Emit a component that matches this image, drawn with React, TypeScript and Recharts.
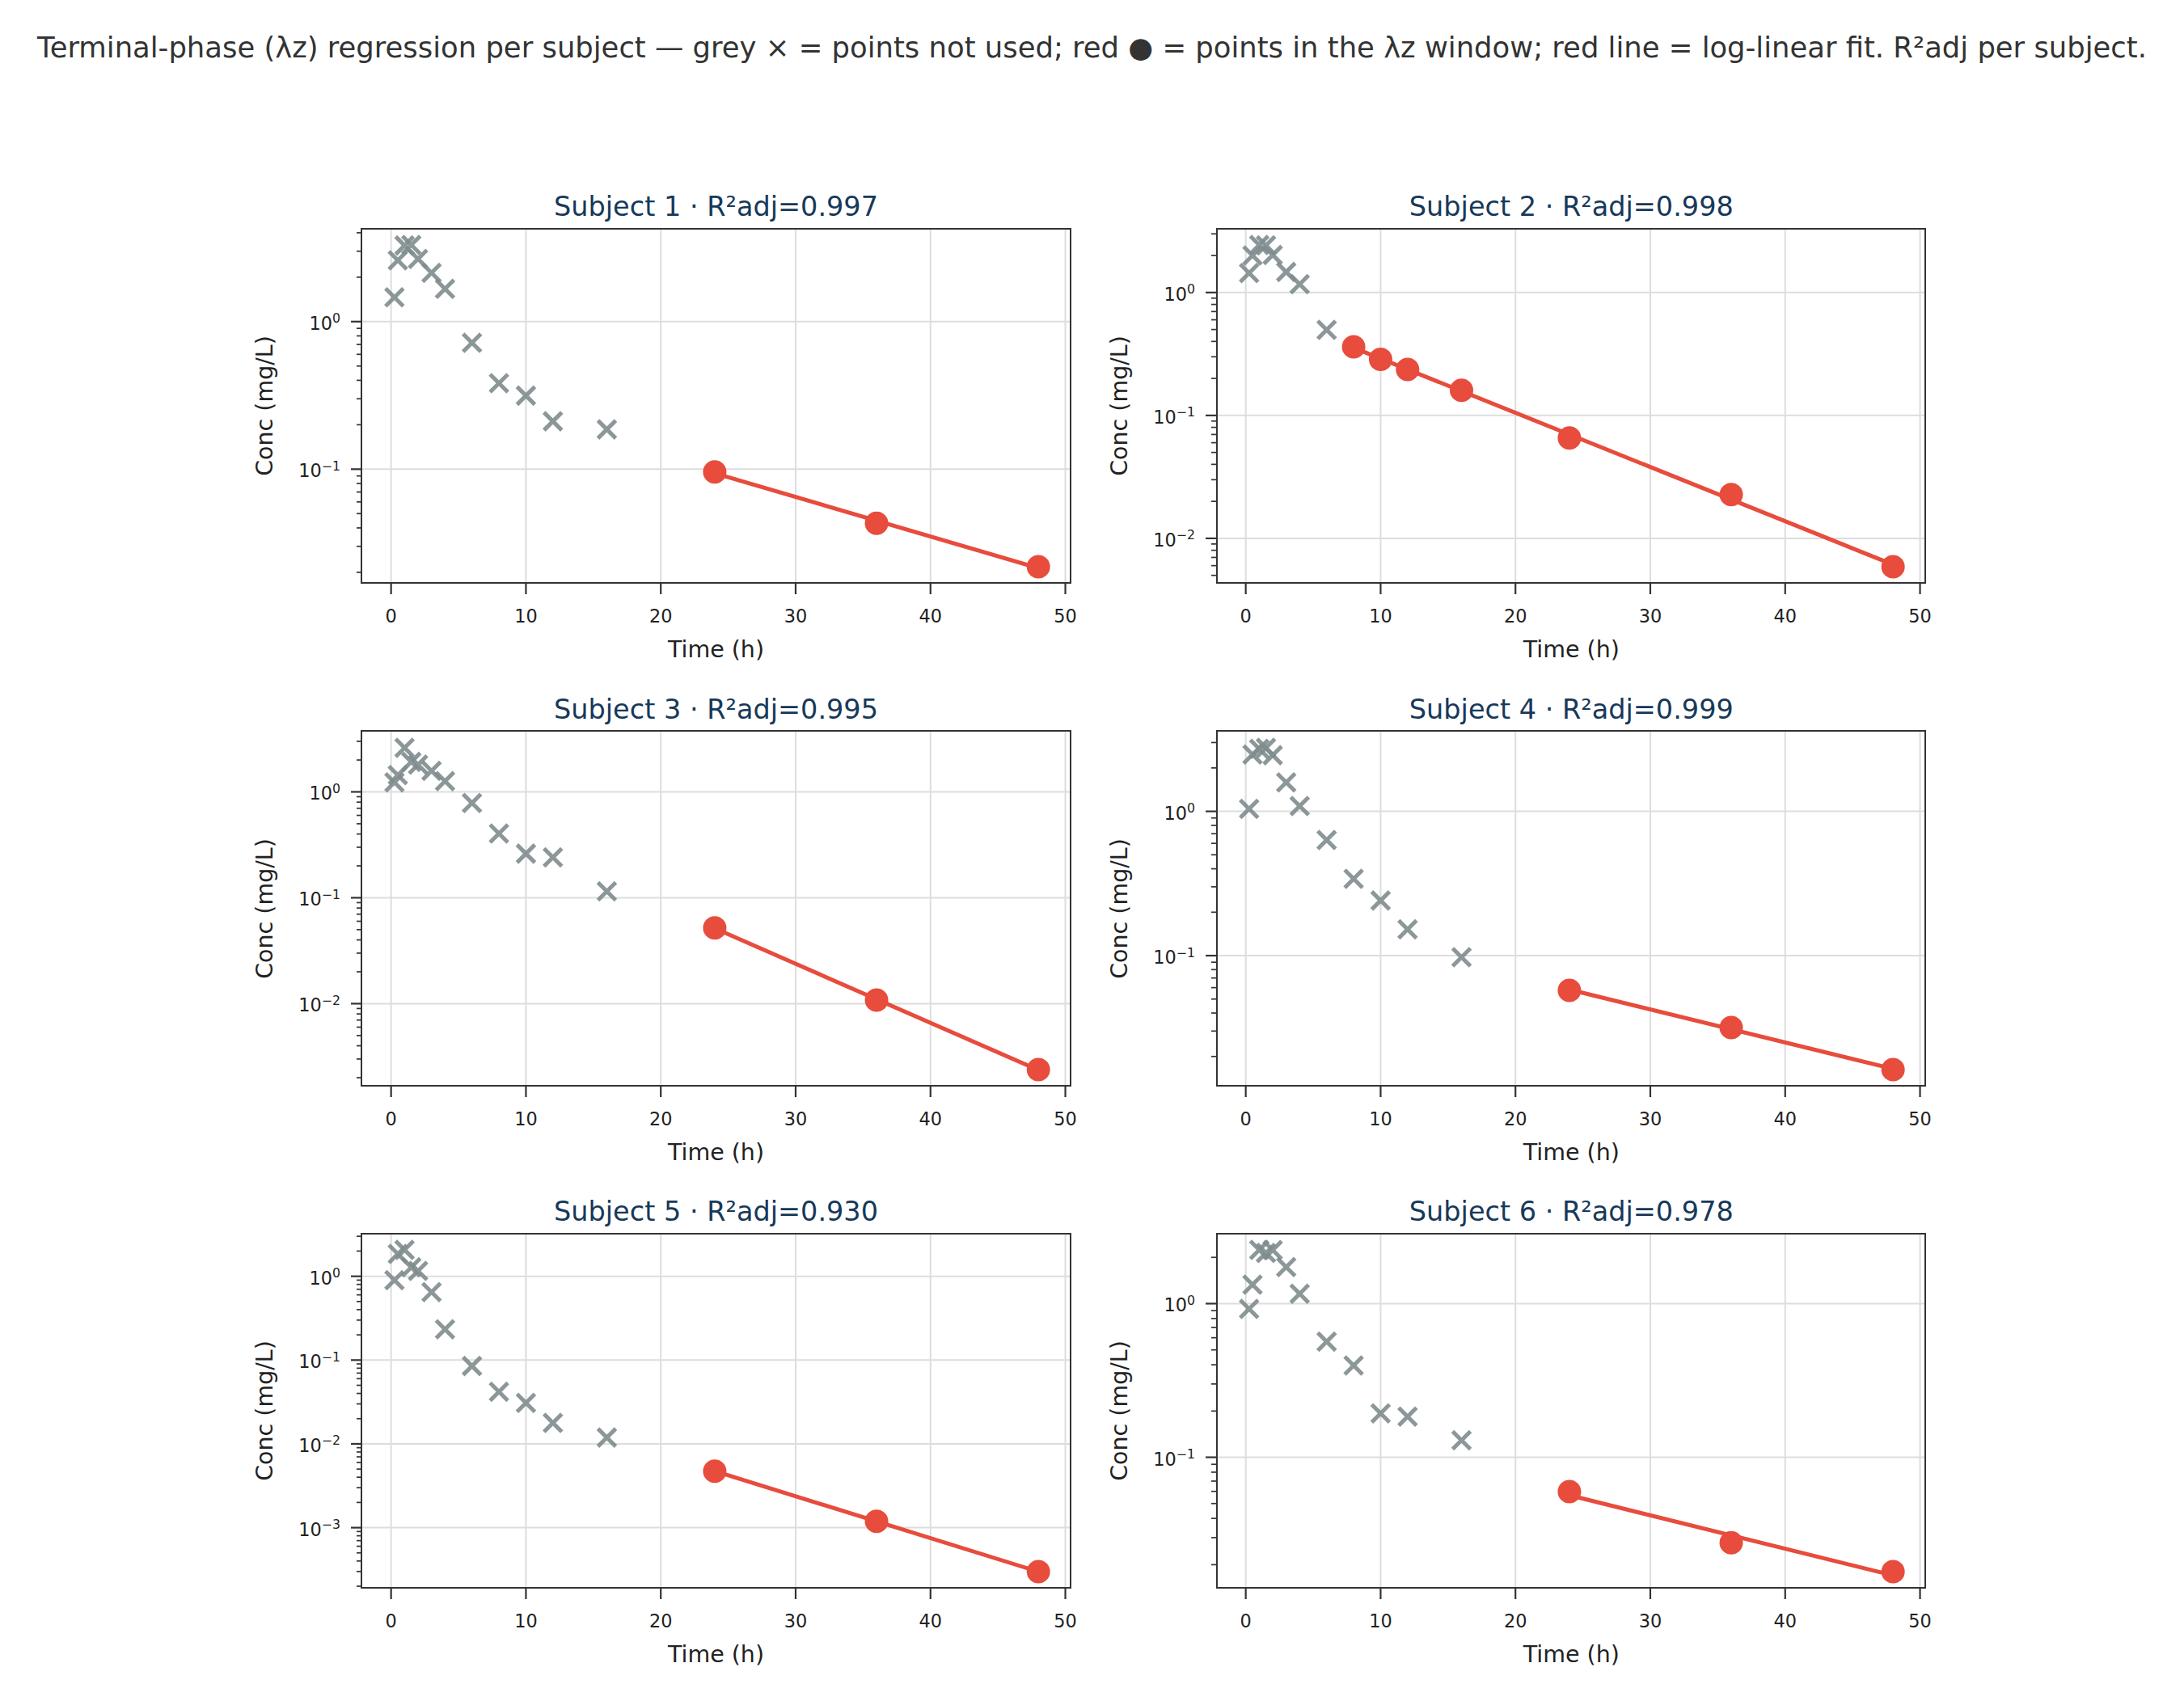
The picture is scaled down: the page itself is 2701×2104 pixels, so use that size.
import React from "react";
import { ComposedChart, Scatter, Line, XAxis, YAxis, CartesianGrid } from "recharts";

// sampling times (h), shared by every subject
const times = [0.25, 0.5, 1, 1.5, 2, 3, 4, 6, 8, 10, 12, 16, 24, 36, 48];

const subjectNames = ["Subject 1", "Subject 2", "Subject 3", "Subject 4", "Subject 5", "Subject 6"];
const r2adj = ["0.997", "0.998", "0.995", "0.999", "0.930", "0.978"];

// concentrations (mg/L) per subject, one value per sampling time
const conc1 = [1.46, 2.6, 3.28, 3.31, 2.66, 2.14, 1.67, 0.718, 0.382, 0.315, 0.211, 0.186, 0.0957, 0.043, 0.0218];
const conc2 = [1.44, 2.0, 2.44, 2.42, 2.02, 1.47, 1.17, 0.497, 0.361, 0.286, 0.237, 0.16, 0.0655, 0.0227, 0.00587];
const conc3 = [1.23, 1.44, 2.61, 1.92, 1.81, 1.58, 1.26, 0.784, 0.405, 0.261, 0.241, 0.115, 0.0519, 0.0108, 0.00238];
const conc4 = [1.04, 2.48, 2.71, 2.76, 2.45, 1.59, 1.09, 0.634, 0.341, 0.241, 0.152, 0.0975, 0.0574, 0.0317, 0.0162];
const conc5 = [0.9, 1.85, 2.07, 1.28, 1.16, 0.647, 0.233, 0.085, 0.0419, 0.0308, 0.0178, 0.0119, 0.00472, 0.00119, 0.000298];
const conc6 = [0.925, 1.33, 2.24, 2.14, 2.23, 1.73, 1.16, 0.565, 0.396, 0.193, 0.184, 0.129, 0.0598, 0.0278, 0.018];
const concBySubject = [conc1, conc2, conc3, conc4, conc5, conc6];

// first time point of the lambda-z window for each subject
const windowStart = [24, 8, 24, 24, 24, 24];

const xTicks = [0, 10, 20, 30, 40, 50];

const suptitle =
  "Terminal-phase (λz) regression per subject — grey × = points not used; red ● = points in the λz window; red line = log-linear fit. R²adj per subject.";

const GREY = "#7f8c8d";
const RED = "#e74c3c";
const TITLE_COLOR = "#17395a";
const INK = "#222222";
const SPINE = "#333333";
const GRID = "#dddddd";
const FONT = "'DejaVu Sans', sans-serif";

// panel geometry
const PLOT_W = 876;
const PLOT_H = 438;
const COL_X = [447.5, 1505.3];
const ROW_Y = [282.7, 904.5, 1525.7];
const M_LEFT = 150;
const M_RIGHT = 20;
const M_TOP = 20;
const M_BOTTOM = 80;
const Y_AXIS_W = 120;
const X_AXIS_H = 60;
const SPINE_W = 2.4;

const xPad = (times[times.length - 1] - times[0]) * 0.05;
const xDomain: [number, number] = [times[0] - xPad, times[times.length - 1] + xPad];

function logDomain(values: number[]): [number, number] {
  const lo = Math.log10(Math.min(...values));
  const hi = Math.log10(Math.max(...values));
  const pad = (hi - lo) * 0.05;
  return [Math.pow(10, lo - pad), Math.pow(10, hi + pad)];
}

function logTicks([lo, hi]: [number, number]) {
  const all: number[] = [];
  const majors: number[] = [];
  for (let d = Math.floor(Math.log10(lo)); d <= Math.ceil(Math.log10(hi)); d++) {
    for (let k = 1; k <= 9; k++) {
      const v = k * Math.pow(10, d);
      if (v >= lo && v <= hi) {
        all.push(v);
        if (k === 1) majors.push(v);
      }
    }
  }
  return { all, majors };
}

// least squares on ln(conc) vs time, evaluated at the ends of the window
function logLinearFit(pts: { t: number; c: number }[]) {
  const n = pts.length;
  const mt = pts.reduce((s, p) => s + p.t, 0) / n;
  const my = pts.reduce((s, p) => s + Math.log(p.c), 0) / n;
  let sxy = 0;
  let sxx = 0;
  pts.forEach((p) => {
    sxy += (p.t - mt) * (Math.log(p.c) - my);
    sxx += (p.t - mt) * (p.t - mt);
  });
  const slope = sxy / sxx;
  const ends = [pts[0].t, pts[n - 1].t];
  return ends.map((t) => ({ t, c: Math.exp(my + slope * (t - mt)) }));
}

const Cross = (props: any) => {
  const { cx, cy } = props;
  const h = 11;
  return (
    <g stroke={GREY} strokeWidth={5} opacity={0.9}>
      <line x1={cx - h} y1={cy - h} x2={cx + h} y2={cy + h} />
      <line x1={cx - h} y1={cy + h} x2={cx + h} y2={cy - h} />
    </g>
  );
};

const Dot = (props: any) => <circle cx={props.cx} cy={props.cy} r={14.5} fill={RED} />;

const TimeTick = (props: any) => {
  const { x, y, payload } = props;
  return (
    <g>
      <line x1={x} x2={x} y1={y} y2={y + 14} stroke={SPINE} strokeWidth={2.2} />
      <text x={x} y={y + 49} textAnchor="middle" fontSize={22.4} fill={INK} fontFamily={FONT}>
        {payload.value}
      </text>
    </g>
  );
};

const LogTick = (props: any) => {
  const { x, y, payload } = props;
  const lg = Math.log10(payload.value);
  const e = Math.round(lg);
  const major = Math.abs(lg - e) < 1e-6;
  return (
    <g>
      <line x1={x - (major ? 14 : 7)} x2={x} y1={y} y2={y} stroke={SPINE} strokeWidth={major ? 2.2 : 1.7} />
      {major && (
        <text x={x - 27} y={y + 10} textAnchor="end" fontSize={22.4} fill={INK} fontFamily={FONT}>
          10
          <tspan dy={-8.5} fontSize={15.7}>
            {e === 0 ? "0" : "\u2212" + Math.abs(e)}
          </tspan>
        </text>
      )}
    </g>
  );
};

function SubjectPanel({ idx }: { idx: number }) {
  const conc = concBySubject[idx];
  const points = times.map((t, i) => ({ t, c: conc[i] }));
  const unused = points.filter((p) => p.t < windowStart[idx]);
  const used = points.filter((p) => p.t >= windowStart[idx]);
  const fit = logLinearFit(used);
  const yDomain = logDomain(conc);
  const { all, majors } = logTicks(yDomain);

  const px = COL_X[idx % 2];
  const py = ROW_Y[Math.floor(idx / 2)];

  return (
    <>
      <div
        style={{
          position: "absolute",
          left: px,
          top: py - 45,
          width: PLOT_W,
          textAlign: "center",
          fontSize: 33.5,
          lineHeight: "36px",
          color: TITLE_COLOR,
          whiteSpace: "nowrap",
        }}
      >
        {subjectNames[idx]} · R²adj={r2adj[idx]}
      </div>
      <div style={{ position: "absolute", left: px - M_LEFT, top: py - M_TOP }}>
        <ComposedChart
          width={PLOT_W + M_LEFT + M_RIGHT}
          height={PLOT_H + M_TOP + M_BOTTOM}
          margin={{ top: M_TOP, right: M_RIGHT, bottom: M_BOTTOM - X_AXIS_H, left: M_LEFT - Y_AXIS_W }}
        >
          <CartesianGrid horizontalValues={majors} verticalValues={xTicks} stroke={GRID} strokeWidth={2} />
          <XAxis
            dataKey="t"
            type="number"
            domain={xDomain}
            allowDataOverflow
            ticks={xTicks}
            interval={0}
            height={X_AXIS_H}
            tickSize={0}
            tickMargin={0}
            tick={<TimeTick />}
            axisLine={false}
          />
          <YAxis
            dataKey="c"
            type="number"
            scale="log"
            domain={yDomain}
            allowDataOverflow
            ticks={all}
            interval={0}
            width={Y_AXIS_W}
            tickSize={0}
            tickMargin={0}
            tick={<LogTick />}
            axisLine={false}
          />
          <Scatter data={unused} dataKey="c" shape={<Cross />} isAnimationActive={false} />
          <Line data={fit} dataKey="c" stroke={RED} strokeWidth={5} dot={false} isAnimationActive={false} />
          <Scatter data={used} dataKey="c" shape={<Dot />} isAnimationActive={false} />
        </ComposedChart>
      </div>
      {/* axes frame, all four spines */}
      <div
        style={{
          position: "absolute",
          left: px - SPINE_W / 2,
          top: py - SPINE_W / 2,
          width: PLOT_W + SPINE_W,
          height: PLOT_H + SPINE_W,
          border: `${SPINE_W}px solid ${SPINE}`,
          boxSizing: "border-box",
          pointerEvents: "none",
        }}
      />
      <div
        style={{
          position: "absolute",
          left: px,
          top: py + PLOT_H + 67,
          width: PLOT_W,
          textAlign: "center",
          fontSize: 28.5,
          lineHeight: "32px",
          color: INK,
        }}
      >
        Time (h)
      </div>
      <div
        style={{
          position: "absolute",
          left: px - 120 - PLOT_H / 2,
          top: py + PLOT_H / 2 - 16,
          width: PLOT_H,
          height: 32,
          textAlign: "center",
          fontSize: 28.5,
          lineHeight: "32px",
          color: INK,
          transform: "rotate(-90deg)",
          transformOrigin: "center",
        }}
      >
        Conc (mg/L)
      </div>
    </>
  );
}

export default function App() {
  return (
    <div
      style={{
        position: "absolute",
        left: 0,
        top: 0,
        width: 2701,
        height: 2104,
        background: "#ffffff",
        fontFamily: FONT,
        overflow: "hidden",
      }}
    >
      <div
        style={{
          position: "absolute",
          left: 0,
          top: 39,
          width: 2701,
          textAlign: "center",
          fontSize: 35.4,
          lineHeight: "40px",
          color: "#333333",
          whiteSpace: "nowrap",
        }}
      >
        {suptitle}
      </div>
      {subjectNames.map((_, i) => (
        <SubjectPanel key={i} idx={i} />
      ))}
    </div>
  );
}
